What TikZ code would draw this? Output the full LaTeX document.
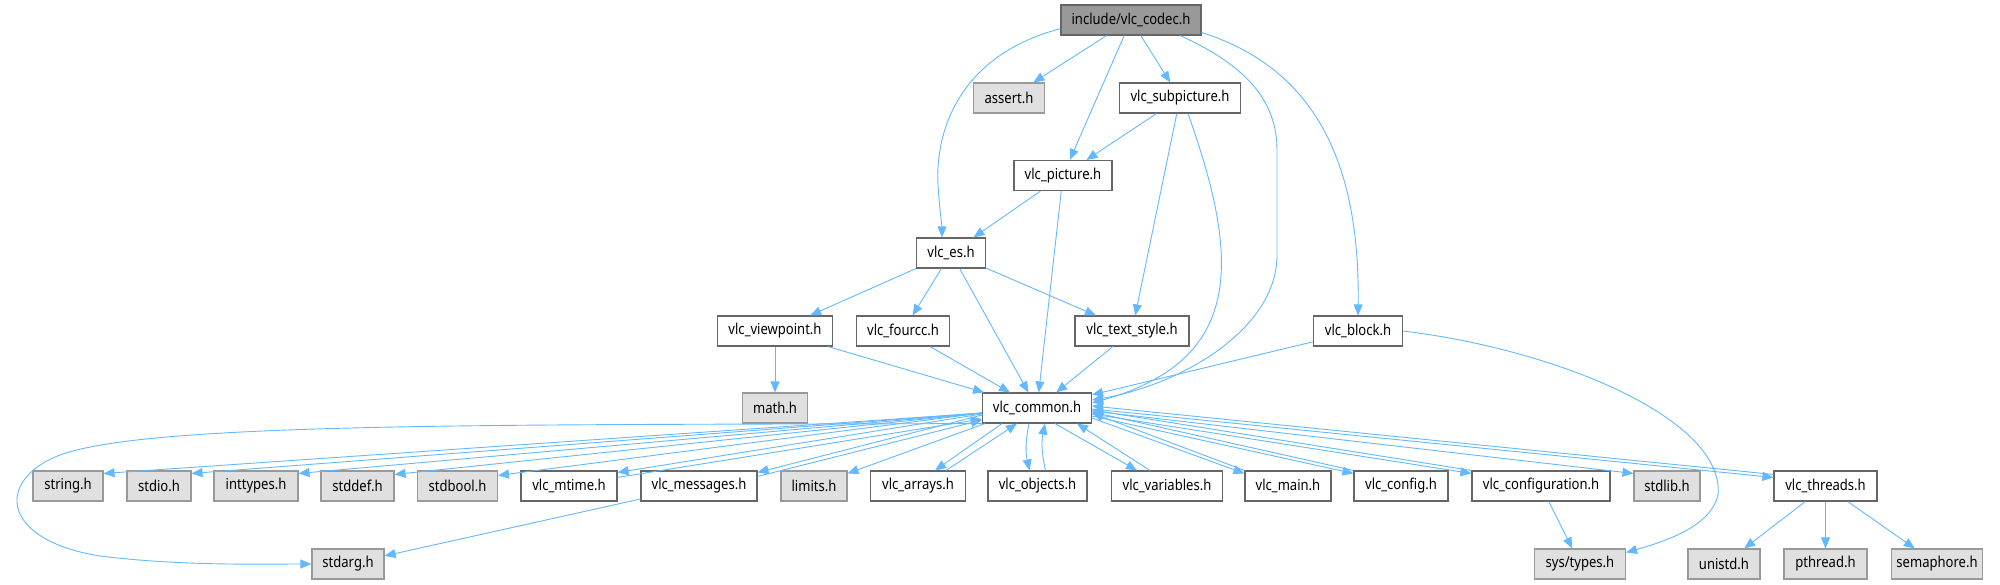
\documentclass[tikz,border=0pt]{standalone}
\usepackage{fontspec}
\setmainfont{Noto Sans}[FakeStretch=0.87]
\usepackage{tikz}
\usetikzlibrary{arrows.meta}
\definecolor{edgeblue}{HTML}{63B8FF}
\definecolor{boxgray}{HTML}{E0E0E0}
\definecolor{rootgray}{HTML}{999999}
\definecolor{linegray}{HTML}{666666}
\tikzset{
  hdr/.style={draw=linegray, fill=white, line width=1.1pt, minimum height=30pt, inner sep=0pt, font=\fontsize{15}{17}\selectfont},
  sys/.style={hdr, draw=rootgray, fill=boxgray},
  root/.style={hdr, fill=rootgray},
  dep/.style={draw=edgeblue, line width=0.9pt, -{Triangle[length=11pt,width=9pt]}}
}

\begin{document}
\begin{tikzpicture}[x=1pt, y=-1pt]
      \useasboundingbox (0, 0) rectangle (2000, 584);
      % top part
      \node[root, minimum width=140pt] (codec) at (1131, 20) {include/vlc\_codec.h};
      \node[sys, minimum width=71pt] (assert) at (1009, 98) {assert.h};
      \node[hdr, minimum width=121pt] (subpic) at (1180, 98) {vlc\_subpicture.h};
      \node[hdr, minimum width=98pt] (picture) at (1063, 175.5) {vlc\_picture.h};
      \node[hdr, minimum width=69pt] (es) at (951, 253) {vlc\_es.h};
      \node[hdr, minimum width=115pt] (viewpoint) at (775, 331) {vlc\_viewpoint.h};
      \node[hdr, minimum width=93pt] (fourcc) at (903, 331) {vlc\_fourcc.h};
      \node[hdr, minimum width=114pt] (textstyle) at (1132, 331) {vlc\_text\_style.h};
      \node[hdr, minimum width=89pt] (block) at (1358, 331) {vlc\_block.h};
      \node[sys, minimum width=65pt] (math) at (775, 408) {math.h};
      \node[hdr, minimum width=109pt] (common) at (1037, 408) {vlc\_common.h};
      % bottom rows
      \node[sys, minimum width=70pt] (string) at (68, 486) {string.h};
      \node[sys, minimum width=64pt] (stdio) at (159, 486) {stdio.h};
      \node[sys, minimum width=84pt] (inttypes) at (256, 486) {inttypes.h};
      \node[sys, minimum width=73pt] (stddef) at (357.5, 486) {stddef.h};
      \node[sys, minimum width=80pt] (stdbool) at (457.5, 486) {stdbool.h};
      \node[hdr, minimum width=96pt] (mtime) at (569, 486) {vlc\_mtime.h};
      \node[hdr, minimum width=116pt] (messages) at (699, 486) {vlc\_messages.h};
      \node[sys, minimum width=66pt] (limits) at (814, 486) {limits.h};
      \node[hdr, minimum width=95pt] (arrays) at (918, 486) {vlc\_arrays.h};
      \node[hdr, minimum width=99pt] (objects) at (1037.5, 486) {vlc\_objects.h};
      \node[hdr, minimum width=111pt] (variables) at (1167, 486) {vlc\_variables.h};
      \node[hdr, minimum width=86pt] (main) at (1288, 486) {vlc\_main.h};
      \node[hdr, minimum width=94pt] (config) at (1401, 486) {vlc\_config.h};
      \node[hdr, minimum width=138pt] (configuration) at (1541, 486) {vlc\_configuration.h};
      \node[sys, minimum width=66pt] (stdlib) at (1667, 486) {stdlib.h};
      \node[hdr, minimum width=103pt] (threads) at (1825.5, 486) {vlc\_threads.h};
      \node[sys, minimum width=72pt] (stdarg) at (348, 564) {stdarg.h};
      \node[sys, minimum width=91pt] (systypes) at (1580, 564) {sys/types.h};
      \node[sys, minimum width=72pt] (unistd) at (1724, 564) {unistd.h};
      \node[sys, minimum width=83pt] (pthread) at (1825.5, 564) {pthread.h};
      \node[sys, minimum width=91pt] (semaphore) at (1937, 564) {semaphore.h};
      % codec
      \draw[dep] (codec.187) .. controls (960, 55) and (935, 130) .. (938, 185) .. controls (940, 215) and (942, 225) .. ([xshift=-9pt]es.north);
      \draw[dep] (codec) -- (assert);
      \draw[dep] (codec) -- (picture);
      \draw[dep] (codec) -- (subpic);
      \draw[dep] ([xshift=49pt]codec.south) .. controls (1245, 65) and (1277, 100) .. (1277, 150) -- (1277, 255) .. controls (1277, 330) and (1180, 385) .. ([yshift=8pt]common.east);
      \draw[dep] (codec.350) .. controls (1320, 70) and (1360, 170) .. (block.north);
      % subpicture, picture, es
      \draw[dep] (subpic) -- (picture);
      \draw[dep] (subpic) -- (textstyle);
      \draw[dep] ([xshift=8pt]subpic.south) .. controls (1240, 260) and (1245, 360) .. ([yshift=5pt]common.east);
      \draw[dep] (picture) -- (es);
      \draw[dep] (picture) -- (common);
      \draw[dep] (es) -- (viewpoint);
      \draw[dep] (es) -- (fourcc);
      \draw[dep] (es) -- (common);
      \draw[dep] (es) -- (textstyle);
      \draw[dep] (viewpoint) -- (math);
      \draw[dep] (viewpoint) -- (common);
      \draw[dep] (fourcc) -- (common);
      \draw[dep] (textstyle) -- (common);
      \draw[dep] (block) -- (common);
      \draw[dep] (block.east) .. controls (1560, 350) and (1725, 420) .. (1718, 495) .. controls (1711, 525) and (1670, 540) .. ([yshift=-4pt]systypes.north east);
      % common, left side
      \draw[dep] ([yshift=-5pt]common.west) -- ([yshift=-3pt]string.north east);
      \draw[dep] ([yshift=-5pt]common.west) -- ([yshift=-3pt]stdio.north east);
      \draw[dep] ([yshift=-5pt]common.west) -- ([yshift=-3pt]inttypes.north east);
      \draw[dep] ([yshift=-5pt]common.west) -- ([yshift=-4pt]stddef.north east);
      \draw[dep] ([yshift=-5pt]common.west) -- ([yshift=-5pt]stdbool.north east);
      \draw[dep] ([yshift=-6pt]common.west) -- ([yshift=-2pt]mtime.north east);
      \draw[dep] ([yshift=-7pt]common.west) -- ([yshift=-2pt]messages.north east);
      \draw[dep] ([xshift=3pt]common.south west) -- ([yshift=-3pt]limits.north east);
      \draw[dep] ([yshift=-7pt]mtime.north east) -- ([yshift=-11pt]common.west);
      \draw[dep] ([yshift=-6pt]messages.north east) -- ([yshift=-12pt]common.west);
      \draw[dep] (common.south west) .. controls (500, 425) and (150, 422) .. (60, 455) .. controls (-5, 480) and (0, 540) .. (100, 556) .. controls (180, 566) and (260, 564) .. (stdarg.west);
      \draw[dep] (messages) -- (stdarg);
      % common, below
      \draw[dep] ([xshift=-35pt]common.south) -- ([xshift=17pt]arrays.north);
      \draw[dep] ([xshift=28pt]arrays.north) -- ([xshift=-20pt]common.south);
      \draw[dep] ([xshift=-8pt]common.south) to[bend right=12] ([xshift=-8pt]objects.north);
      \draw[dep] ([xshift=8pt]objects.north) to[bend left=12] ([xshift=8pt]common.south);
      \draw[dep] ([xshift=18pt]common.south) -- ([xshift=-30pt]variables.north);
      \draw[dep] ([xshift=-17pt]variables.north) -- ([xshift=40pt]common.south);
      % common, right side
      \draw[dep] ([yshift=-10pt]common.east) -- ([yshift=-3pt]main.north west);
      \draw[dep] ([yshift=-8pt]common.east) -- ([yshift=-3pt]config.north west);
      \draw[dep] ([yshift=-6pt]common.east) -- ([yshift=-3pt]configuration.north west);
      \draw[dep] ([yshift=-3pt]common.east) -- ([yshift=-3pt]stdlib.north west);
      \draw[dep] ([yshift=-1pt]common.east) -- ([yshift=-7pt]threads.north west);
      \draw[dep] (main.north west) -- ([yshift=-5pt]common.east);
      \draw[dep] (config.north west) -- ([yshift=-4pt]common.east);
      \draw[dep] (configuration.north west) -- ([yshift=-2pt]common.east);
      \draw[dep] ([yshift=-4pt]threads.north west) -- ([yshift=2pt]common.east);
      % lowest row
      \draw[dep] (configuration) -- (systypes);
      \draw[dep] (threads) -- (unistd);
      \draw[dep] (threads) -- (pthread);
      \draw[dep] (threads) -- (semaphore);
\end{tikzpicture}
\end{document}
